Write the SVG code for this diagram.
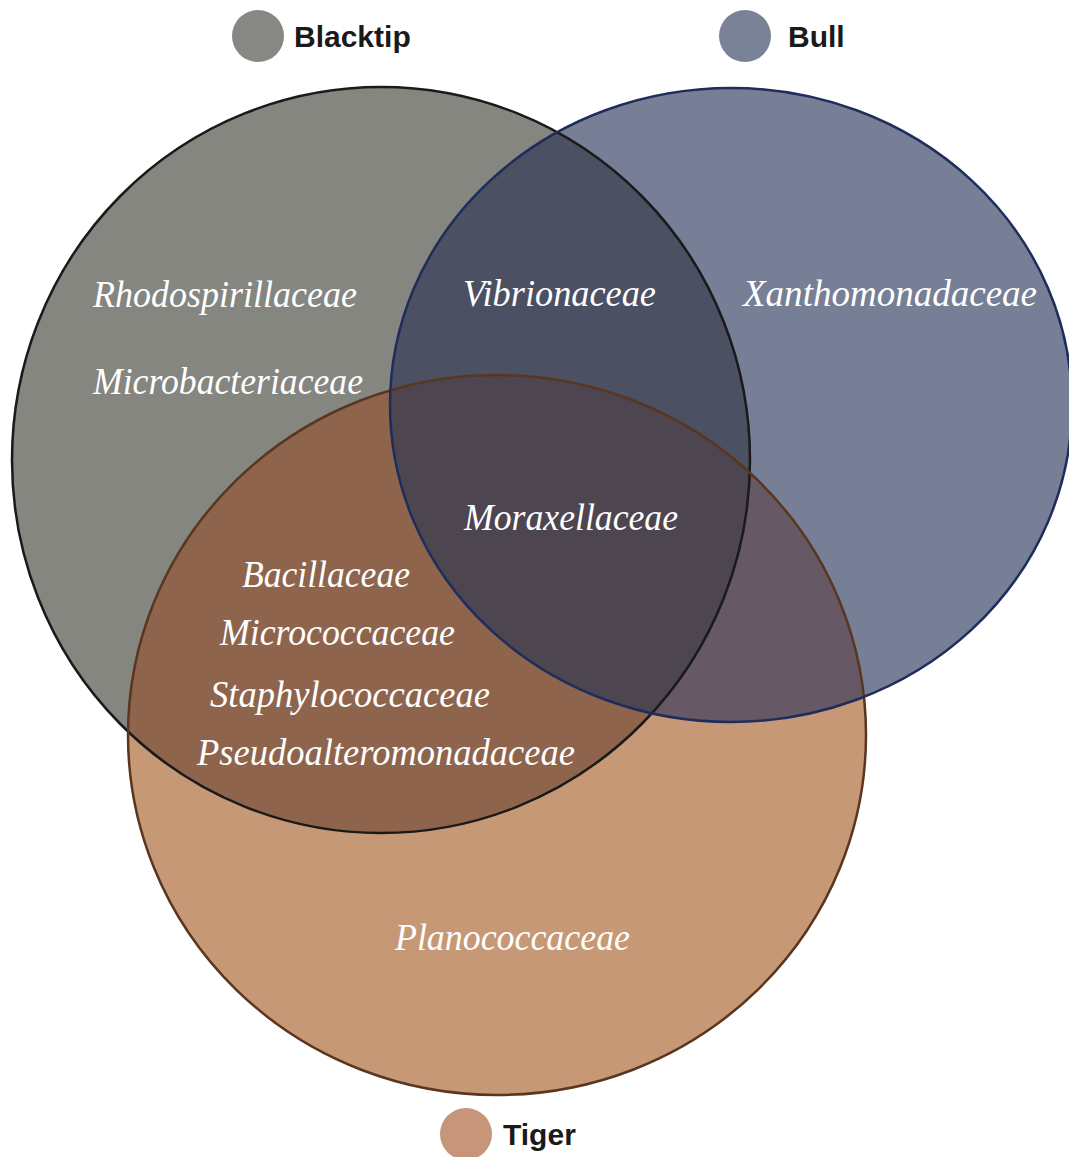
<svg xmlns="http://www.w3.org/2000/svg" width="1069" height="1157" viewBox="0 0 1069 1157">
<style>
.lbl{font-family:"Liberation Serif","Times New Roman",serif;font-style:italic;font-size:37px;fill:#ffffff}
.leg{font-family:"Liberation Sans",Arial,sans-serif;font-weight:bold;font-size:30px;fill:#1a1a1a}
</style>
<defs>
<clipPath id="cBT"><ellipse cx="381" cy="460" rx="369" ry="373"/></clipPath>
<clipPath id="cBU"><ellipse cx="731" cy="405" rx="341" ry="317"/></clipPath>
</defs>
<rect width="1069" height="1157" fill="#ffffff"/>
<g id="fills">
<ellipse cx="381" cy="460" rx="369" ry="373" fill="#85867f"/>
<ellipse cx="731" cy="405" rx="341" ry="317" fill="#767f95"/>
<ellipse cx="497" cy="735" rx="369" ry="360" fill="#c69876"/>
<ellipse cx="731" cy="405" rx="341" ry="317" fill="#4b5062" clip-path="url(#cBT)"/>
<ellipse cx="497" cy="735" rx="369" ry="360" fill="#8e654c" clip-path="url(#cBT)"/>
<ellipse cx="497" cy="735" rx="369" ry="360" fill="#665864" clip-path="url(#cBU)"/>
<g clip-path="url(#cBT)"><ellipse cx="497" cy="735" rx="369" ry="360" fill="#4d454f" clip-path="url(#cBU)"/></g>
</g>
<g id="blacktip">
<ellipse cx="381" cy="460" rx="369" ry="373" fill="none" stroke="#1a1a1a" stroke-width="2.5"/>
</g>
<g id="tiger">
<ellipse cx="497" cy="735" rx="369" ry="360" fill="none" stroke="#5a3620" stroke-width="2.5"/>
</g>
<g id="bull">
<ellipse cx="731" cy="405" rx="341" ry="317" fill="none" stroke="#1f2d5c" stroke-width="2.5"/>
</g>
<g id="labels">
<text class="lbl" x="93" y="307" textLength="264" lengthAdjust="spacingAndGlyphs">Rhodospirillaceae</text>
<text class="lbl" x="93" y="394" textLength="270" lengthAdjust="spacingAndGlyphs">Microbacteriaceae</text>
<text class="lbl" x="463" y="306" textLength="193" lengthAdjust="spacingAndGlyphs">Vibrionaceae</text>
<text class="lbl" x="743" y="306" textLength="294" lengthAdjust="spacingAndGlyphs">Xanthomonadaceae</text>
<text class="lbl" x="464" y="530" textLength="214" lengthAdjust="spacingAndGlyphs">Moraxellaceae</text>
<text class="lbl" x="242" y="587" textLength="168" lengthAdjust="spacingAndGlyphs">Bacillaceae</text>
<text class="lbl" x="220" y="645" textLength="235" lengthAdjust="spacingAndGlyphs">Micrococcaceae</text>
<text class="lbl" x="210" y="707" textLength="280" lengthAdjust="spacingAndGlyphs">Staphylococcaceae</text>
<text class="lbl" x="197" y="765" textLength="378" lengthAdjust="spacingAndGlyphs">Pseudoalteromonadaceae</text>
<text class="lbl" x="395" y="950" textLength="235" lengthAdjust="spacingAndGlyphs">Planococcaceae</text>
</g>
<g id="legend-blacktip">
<circle cx="258" cy="36" r="26" fill="#878884"/>
<text class="leg" x="294" y="47">Blacktip</text>
</g>
<g id="legend-bull">
<circle cx="745" cy="36" r="26" fill="#7a8298"/>
<text class="leg" x="788" y="47">Bull</text>
</g>
<g id="legend-tiger">
<circle cx="466" cy="1134" r="26" fill="#c6957a"/>
<text class="leg" x="503" y="1145">Tiger</text>
</g>
</svg>
